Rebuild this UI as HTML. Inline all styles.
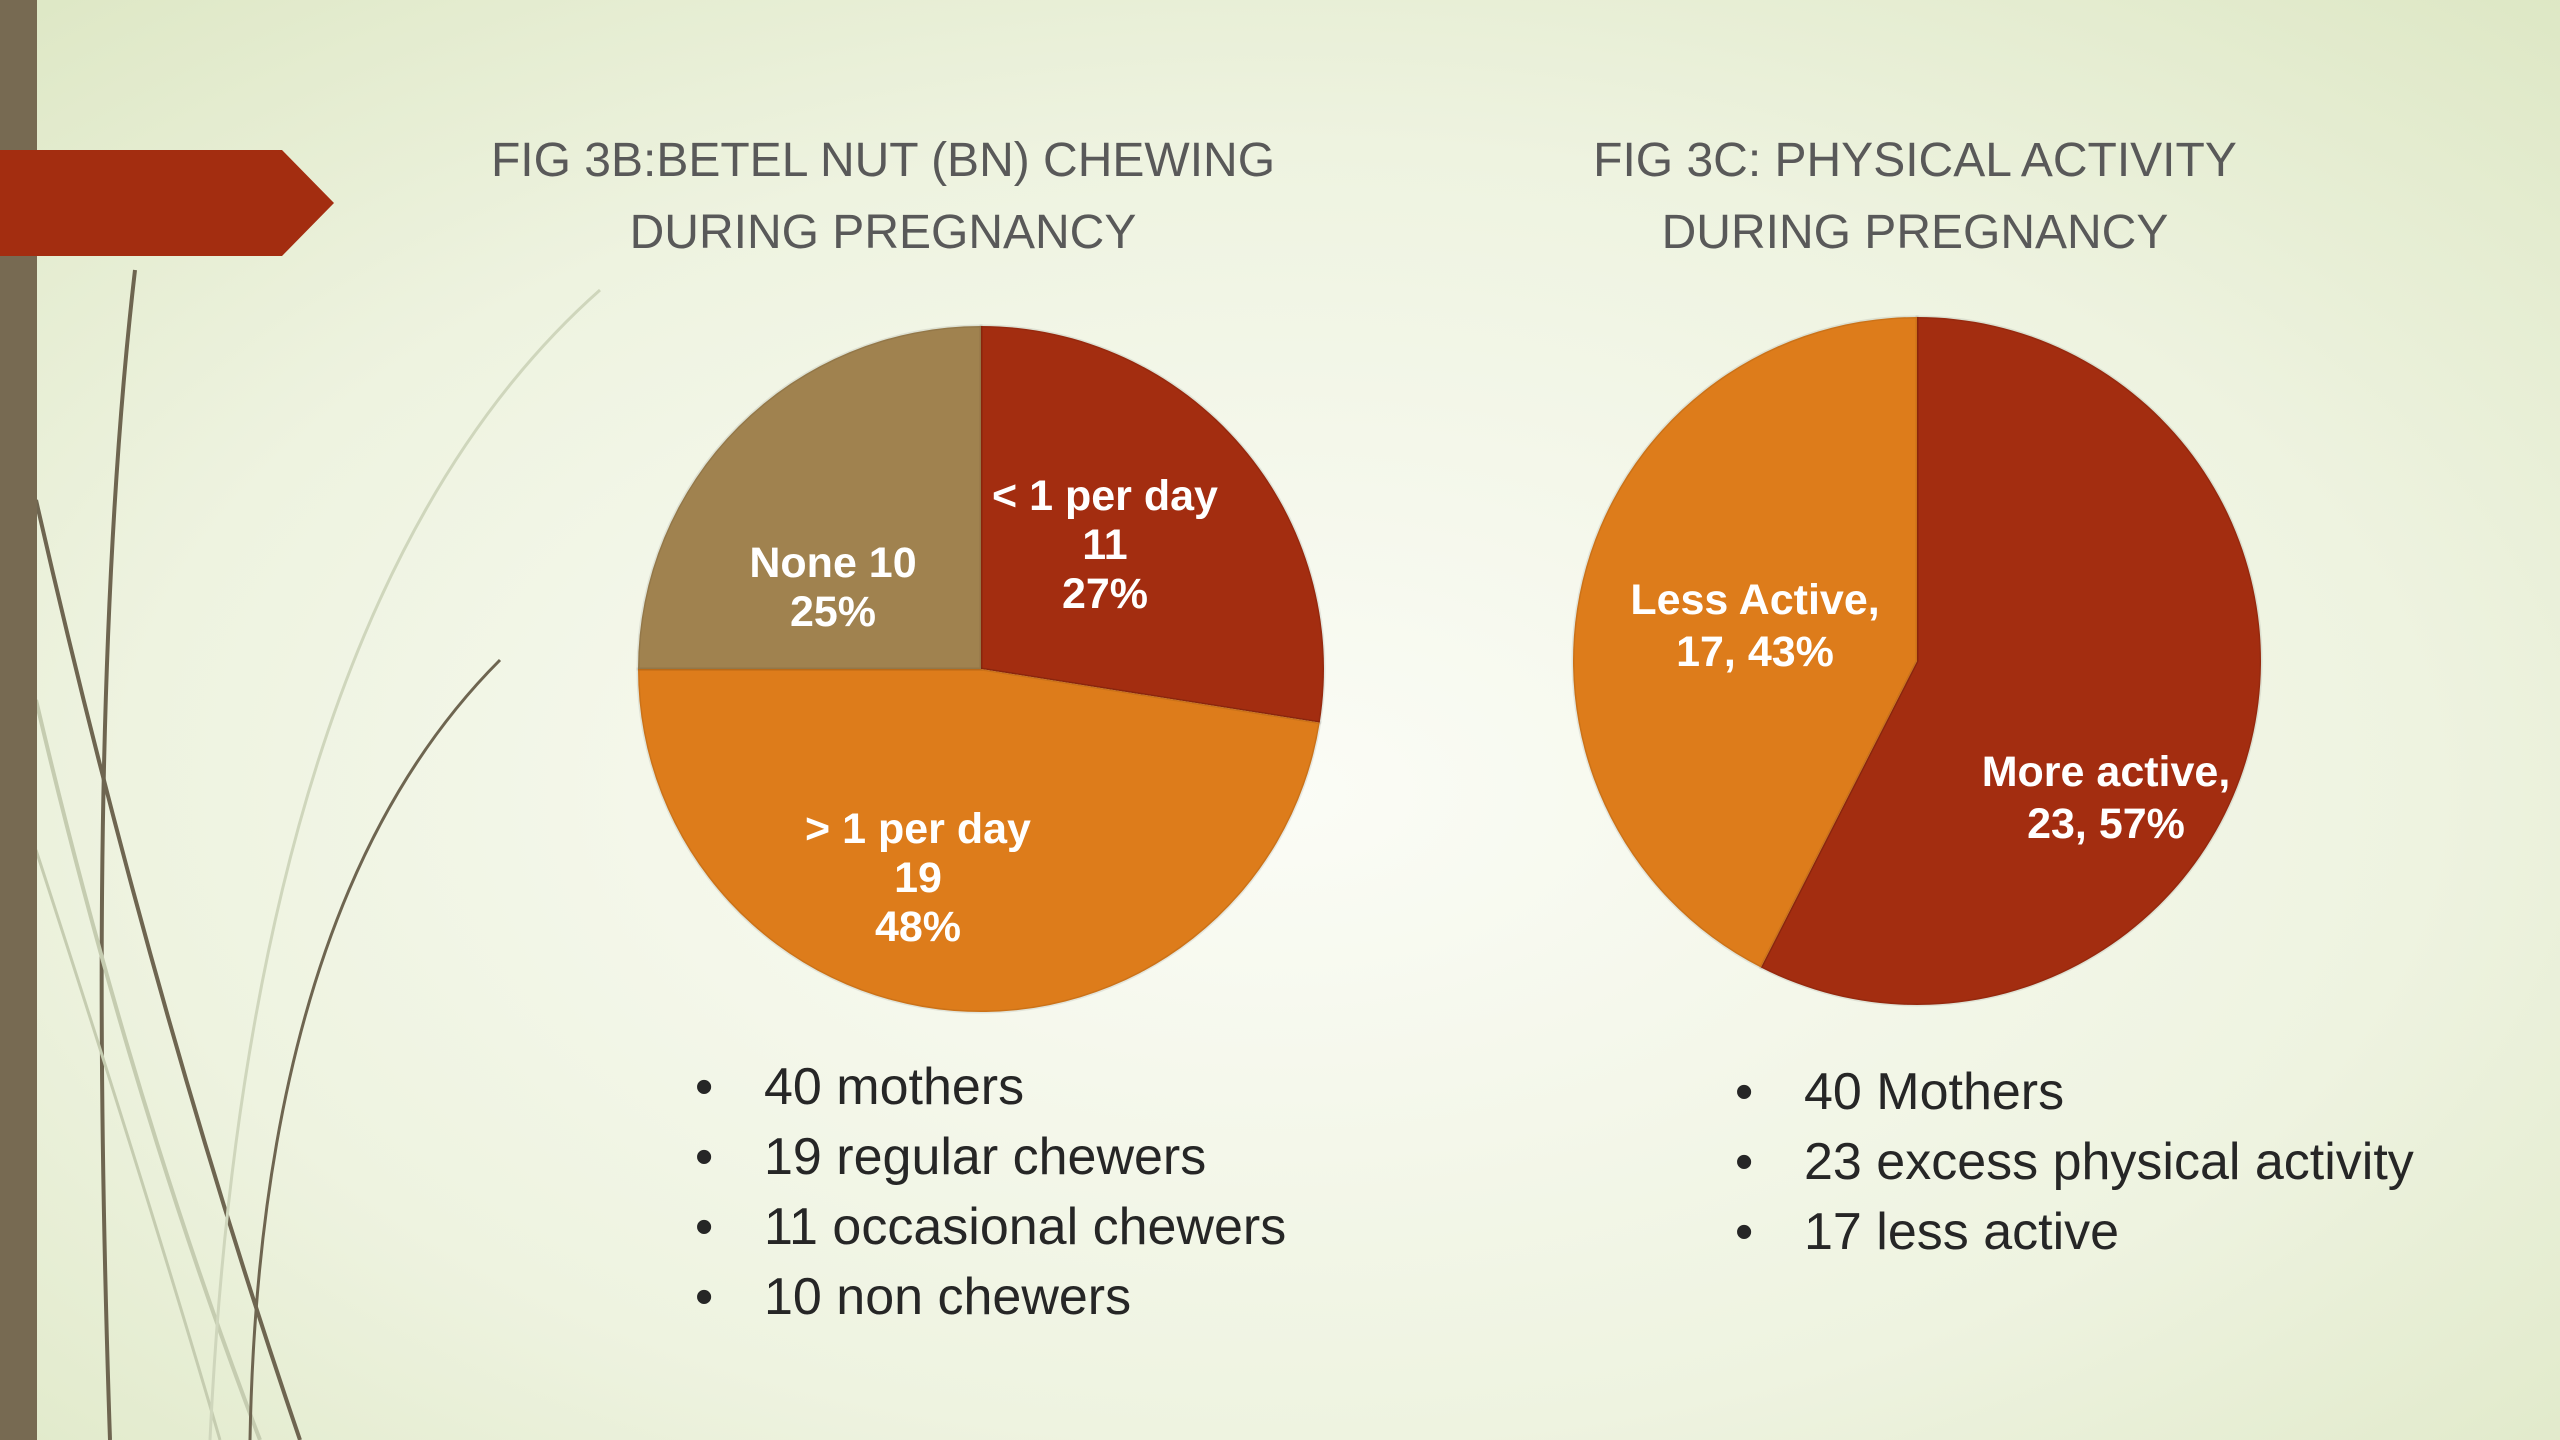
<!DOCTYPE html>
<html><head><meta charset="utf-8"><style>
html,body{margin:0;padding:0;width:2560px;height:1440px;overflow:hidden}
svg{display:block}
.t{font-family:"Liberation Sans",sans-serif;fill:#595959;font-size:48px}
.b{font-family:"Liberation Sans",sans-serif;fill:#262626;font-size:52px}
.l{font-family:"Liberation Sans",sans-serif;fill:#fff;font-size:43px;font-weight:bold}
</style></head><body>
<svg id="s" width="2560" height="1440" viewBox="0 0 2560 1440">
<defs><radialGradient id="bg" cx="0.5" cy="0.55" r="0.75"><stop offset="0" stop-color="#fbfcf6"/><stop offset="0.6" stop-color="#eef3e0"/><stop offset="1" stop-color="#dde7c4"/></radialGradient></defs>
<rect width="2560" height="1440" fill="url(#bg)"/>
<g fill="none">
<path d="M135 270 Q85 700 110 1440" stroke="#6e6550" stroke-width="4"/>
<path d="M36 500 Q150 1000 300 1440" stroke="#6e6550" stroke-width="4"/>
<path d="M36 700 Q130 1100 260 1440" stroke="#c5ccb0" stroke-width="4"/>
<path d="M36 850 Q150 1200 220 1440" stroke="#c5ccb0" stroke-width="3"/>
<path d="M600 290 Q250 600 210 1440" stroke="#cfd6bc" stroke-width="3"/>
<path d="M500 660 Q260 900 250 1440" stroke="#6e6550" stroke-width="3"/>
</g>
<rect x="0" y="0" width="37" height="1440" fill="#776a52"/>
<polygon points="0,150 282,150 334,203 282,256 0,256" fill="#a32d10"/>
<text class="t" text-anchor="middle" x="883" y="176">FIG 3B:BETEL NUT (BN) CHEWING<tspan x="883" y="248">DURING PREGNANCY</tspan></text>
<text class="t" text-anchor="middle" x="1915" y="176">FIG 3C: PHYSICAL ACTIVITY<tspan x="1915" y="248">DURING PREGNANCY</tspan></text>
<g id="p1"></g>
<g id="p2"></g>
<g>
<text class="b" x="695" y="1104">•</text><text class="b" x="764" y="1104">40 mothers</text>
<text class="b" x="695" y="1174">•</text><text class="b" x="764" y="1174">19 regular chewers</text>
<text class="b" x="695" y="1244">•</text><text class="b" x="764" y="1244">11 occasional chewers</text>
<text class="b" x="695" y="1314">•</text><text class="b" x="764" y="1314">10 non chewers</text>
</g>
<g>
<text class="b" x="1735" y="1109">•</text><text class="b" x="1804" y="1109">40 Mothers</text>
<text class="b" x="1735" y="1179">•</text><text class="b" x="1804" y="1179">23 excess physical activity</text>
<text class="b" x="1735" y="1249">•</text><text class="b" x="1804" y="1249">17 less active</text>
</g>
<g>
<text class="l" text-anchor="middle"><tspan x="1105" y="510">&lt; 1 per day</tspan><tspan x="1105" y="559">11</tspan><tspan x="1105" y="608">27%</tspan></text>
<text class="l" text-anchor="middle"><tspan x="833" y="577">None 10</tspan><tspan x="833" y="626">25%</tspan></text>
<text class="l" text-anchor="middle"><tspan x="918" y="843">&gt; 1 per day</tspan><tspan x="918" y="892">19</tspan><tspan x="918" y="941">48%</tspan></text>
</g>
<g>
<text class="l" text-anchor="middle"><tspan x="1755" y="614">Less Active,</tspan><tspan x="1755" y="666">17, 43%</tspan></text>
<text class="l" text-anchor="middle"><tspan x="2106" y="786">More active,</tspan><tspan x="2106" y="838">23, 57%</tspan></text>
</g>
</svg>
<script>
const pie1Values=[11,19,10];
const pie1Colors=["#a32d10","#dd7c1b","#a0824f"];
const pie2Values=[23,17];
const pie2Colors=["#a32d10","#dd7c1b"];
const NS="http://www.w3.org/2000/svg";
function drawPie(g,vals,cols,cx,cy,r,names){
  const tot=vals.reduce((a,b)=>a+b,0);let a0=0;
  vals.forEach((v,i)=>{
    const a1=a0+v/tot*2*Math.PI;
    const p=(a)=>[cx+r*Math.sin(a),cy-r*Math.cos(a)];
    const [x0,y0]=p(a0),[x1,y1]=p(a1);
    const path=document.createElementNS(NS,'path');
    path.setAttribute('d',`M${cx},${cy}L${x0},${y0}A${r},${r} 0 ${a1-a0>Math.PI?1:0} 1 ${x1},${y1}Z`);
    path.setAttribute('fill',cols[i]);path.setAttribute('stroke','rgba(0,0,0,0.08)');path.setAttribute('stroke-width','3');
    
    
    g.appendChild(path);
    a0=a1;
  });
}
drawPie(document.getElementById('p1'),pie1Values,pie1Colors,981,669,343,['slice-less-than-1','slice-more-than-1','slice-none']);
drawPie(document.getElementById('p2'),pie2Values,pie2Colors,1917,661,344,['slice-more-active','slice-less-active']);
</script>
</body></html>
